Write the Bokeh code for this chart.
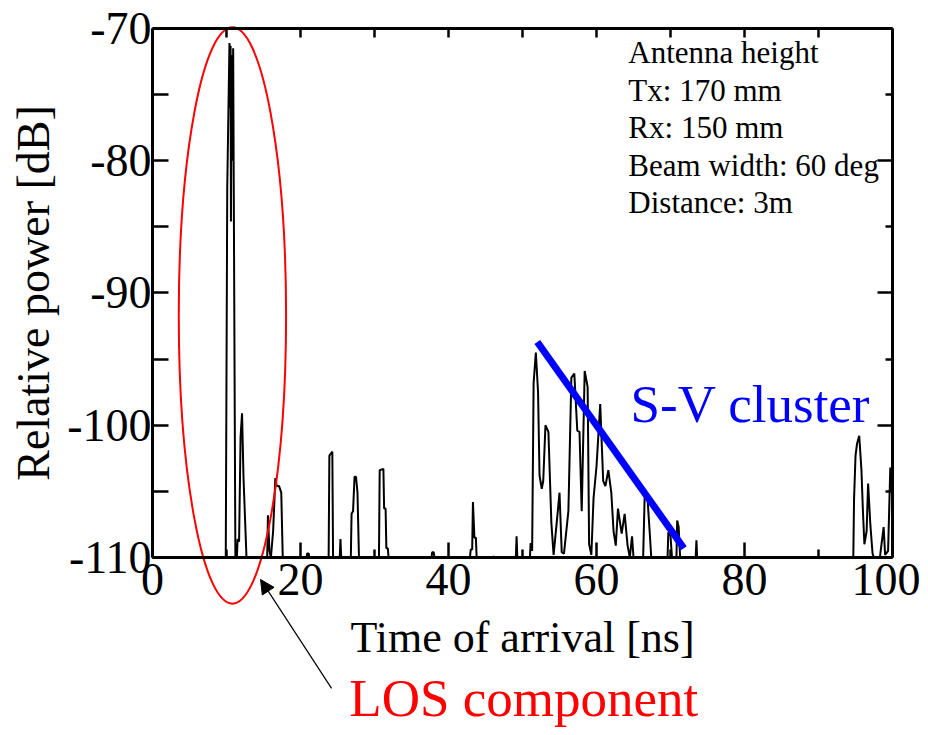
from bokeh.plotting import figure
from bokeh.models import (Range1d, LinearAxis, FixedTicker, Label, Arrow, NormalHead,
                          CustomJSTickFormatter)
from bokeh.embed import file_html
from bokeh.resources import INLINE

# ---------------- data ----------------
toa_ns = [0.0, 9.9, 10.1, 10.4, 10.5, 10.55, 10.6, 10.7, 10.8, 10.9, 11.0, 11.2,
          11.4, 11.5, 11.7, 11.9, 12.1, 12.3, 12.5, 12.7,
          15.5, 15.6, 15.8, 16.0, 16.3, 16.6, 16.8, 17.1, 17.4, 17.6,
          20.8, 20.9, 21.1, 21.2,
          23.8, 23.9, 24.3, 24.4, 25.3, 25.4, 25.5,
          26.8, 26.9, 27.1, 27.3, 27.5, 27.7, 27.9,
          30.6, 30.7, 31.2, 31.3, 31.5, 31.6, 31.8, 31.9,
          37.7, 37.8, 38.0, 38.1,
          42.9, 43.0, 43.2, 43.3, 43.5, 43.7, 43.8,
          46.0, 46.1, 46.2, 49.1, 49.2, 49.3,
          51.0, 51.1, 51.3, 51.5, 51.8, 52.1, 52.3, 52.6, 52.8, 53.1, 53.5,
          53.9, 54.2, 54.6, 55.0, 55.3, 55.6, 56.2, 56.6, 57.0, 57.4, 57.7,
          58.0, 58.4, 58.8, 59.0, 59.3, 59.6, 60.0, 60.5, 60.9, 61.2, 61.6,
          62.0, 62.3, 62.6, 62.9, 63.4, 63.8, 64.2, 64.5, 64.8, 65.0,
          66.3, 66.5, 66.9, 67.2, 67.4,
          69.6, 69.7, 70.0, 70.2, 70.8, 70.9, 71.1, 71.3,
          73.4, 73.5, 73.6,
          94.7, 94.8, 95.0, 95.2, 95.5, 95.8, 96.0, 96.2, 96.5, 96.7, 97.0,
          97.3, 97.5, 98.3, 98.4, 98.8, 99.0, 99.4, 99.7, 99.9, 100.0]
power_db = [-110, -110, -82.0, -71.1, -76.0, -71.3, -84.6, -72.0, -80.0, -71.5, -84.5, -110,
            -110, -108.6, -108.8, -100.9, -99.1, -104.0, -107.0, -110,
            -110, -106.8, -109.5, -110, -108.0, -104.0, -104.6, -104.6, -105.1, -110,
            -110, -109.7, -109.7, -110,
            -110, -102.3, -102.0, -110, -110, -108.6, -110,
            -110, -106.7, -106.5, -103.9, -103.9, -105.1, -110,
            -110, -103.4, -103.3, -106.3, -106.3, -109.3, -109.3, -110,
            -110, -109.6, -109.6, -110,
            -110, -109.4, -109.4, -105.8, -108.5, -108.5, -110,
            -110, -109.9, -110, -110, -108.4, -110,
            -110, -108.9, -109.5, -96.8, -94.5, -97.5, -103.8, -104.8, -104.2, -100.0, -100.5,
            -107.4, -109.8, -107.5, -105.1, -109.6, -109.7, -106.5, -96.4, -96.1, -100.4, -100.5,
            -106.5, -95.9, -97.1, -109.0, -109.8, -105.5, -103.1, -98.4, -104.2, -104.6, -103.4,
            -105.1, -108.0, -109.1, -106.3, -108.2, -106.7, -109.1, -110, -108.4, -110,
            -110, -105.5, -105.6, -108.2, -110,
            -110, -108.1, -108.4, -110, -110, -107.2, -107.7, -110,
            -110, -108.7, -110,
            -110, -105.6, -102.3, -101.4, -100.8, -103.4, -106.5, -109.0, -108.0, -104.4, -107.5,
            -109.7, -110, -110, -109.5, -107.7, -109.8, -109.5, -103.2, -105.0, -105.0]

x_ticks = [0, 20, 40, 60, 80, 100]
x_minor = [10, 30, 50, 70, 90]
y_ticks = [-110, -100, -90, -80, -70]
y_minor = [-105, -95, -85, -75]
x_lim = (0, 100)
y_lim = (-110, -70)

# S-V cluster decay line (start/end)
sv_t = [52.0, 71.8]
sv_p = [-93.7, -109.3]

# LOS ellipse: centre, full width, full height (data units)
los_x = [10.8]
los_y = [-91.7]
los_w = 14.5
los_h = 43.6

info_lines = ["Antenna height", "Tx: 170 mm", "Rx: 150 mm",
              "Beam width: 60 deg", "Distance: 3m"]

FONT = "Liberation Serif"

# the frame spans the whole canvas so that annotations outside the axes box
# (ellipse, arrow, "LOS component") are not clipped; axes sit at fixed locations
p = figure(width=920, height=727, output_backend="svg", toolbar_location=None,
           x_range=Range1d(-20.54, 103.78), y_range=Range1d(-122.855, -67.883),
           x_axis_type=None, y_axis_type=None,
           min_border=0)
p.grid.visible = False
p.outline_line_color = None
p.background_fill_color = "white"
p.border_fill_color = "white"

num_fmt = CustomJSTickFormatter(code="return tick.toString()")


def make_axis(loc, ticks, minor, bounds, tin, min_in, labels):
    ax = LinearAxis(ticker=FixedTicker(ticks=ticks, minor_ticks=minor),
                    fixed_location=loc, bounds=bounds)
    ax.axis_line_width = 3
    ax.axis_line_color = "black"
    ax.major_tick_in = tin
    ax.major_tick_out = 0
    ax.minor_tick_in = min_in
    ax.minor_tick_out = 0
    ax.major_tick_line_width = 2.5
    ax.minor_tick_line_width = 2.5
    ax.major_tick_line_color = "black"
    ax.minor_tick_line_color = "black"
    ax.major_label_text_font = FONT
    ax.major_label_text_color = "black"
    ax.axis_label_text_font = FONT
    ax.axis_label_text_color = "black"
    ax.axis_label_text_font_style = "normal"
    if labels:
        ax.formatter = num_fmt
    else:
        ax.formatter = CustomJSTickFormatter(code="return ''")
    return ax


xb = make_axis(y_lim[0], x_ticks, x_minor, x_lim, 15, 8, True)
xb.axis_label = "Time of arrival [ns]"
xb.major_label_text_font_size = "46px"
xb.major_label_standoff = 7
xb.axis_label_text_font_size = "44px"
xb.axis_label_standoff = 14
p.add_layout(xb, "below")

xt = make_axis(y_lim[1], x_ticks, x_minor, x_lim, 9, 9, False)
p.add_layout(xt, "above")

yl = make_axis(x_lim[0], y_ticks, y_minor, y_lim, 16, 16, True)
yl.axis_label = "Relative power [dB]"
yl.major_label_text_font_size = "46px"
yl.major_label_standoff = 1
yl.axis_label_text_font_size = "46px"
yl.axis_label_standoff = 5
p.add_layout(yl, "left")

yr = make_axis(x_lim[1], y_ticks, y_minor, y_lim, 15, 7, False)
p.add_layout(yr, "right")

# measured trace
p.line(toa_ns, power_db, line_color="black", line_width=2)

# S-V cluster line
p.line(sv_t, sv_p, line_color="#0000ff", line_width=7)

# LOS ellipse
p.ellipse(x=los_x, y=los_y, width=los_w, height=los_h, fill_color=None,
          line_color="#ff0000", line_width=2)

# info text
for i, s in enumerate(info_lines):
    p.add_layout(Label(x=64.3, y=-71.85 - i * 2.836, text=s, text_font=FONT,
                       text_font_size="31px", text_color="black",
                       text_baseline="alphabetic"))

p.add_layout(Label(x=64.6, y=-98.36, text="S-V cluster", text_font=FONT,
                   text_font_size="53px", text_color="#0000ff",
                   text_baseline="alphabetic"))

p.add_layout(Label(x=26.6, y=-120.66, text="LOS component", text_font=FONT,
                   text_font_size="53px", text_color="#ff0000",
                   text_baseline="alphabetic"))

p.add_layout(Arrow(x_start=24.2, y_start=-119.9, x_end=14.6, y_end=-111.66,
                   line_color="black", line_width=1.2,
                   end=NormalHead(size=14, fill_color="black", line_color="black")))

open("out.html", "w").write(file_html(p, INLINE))
